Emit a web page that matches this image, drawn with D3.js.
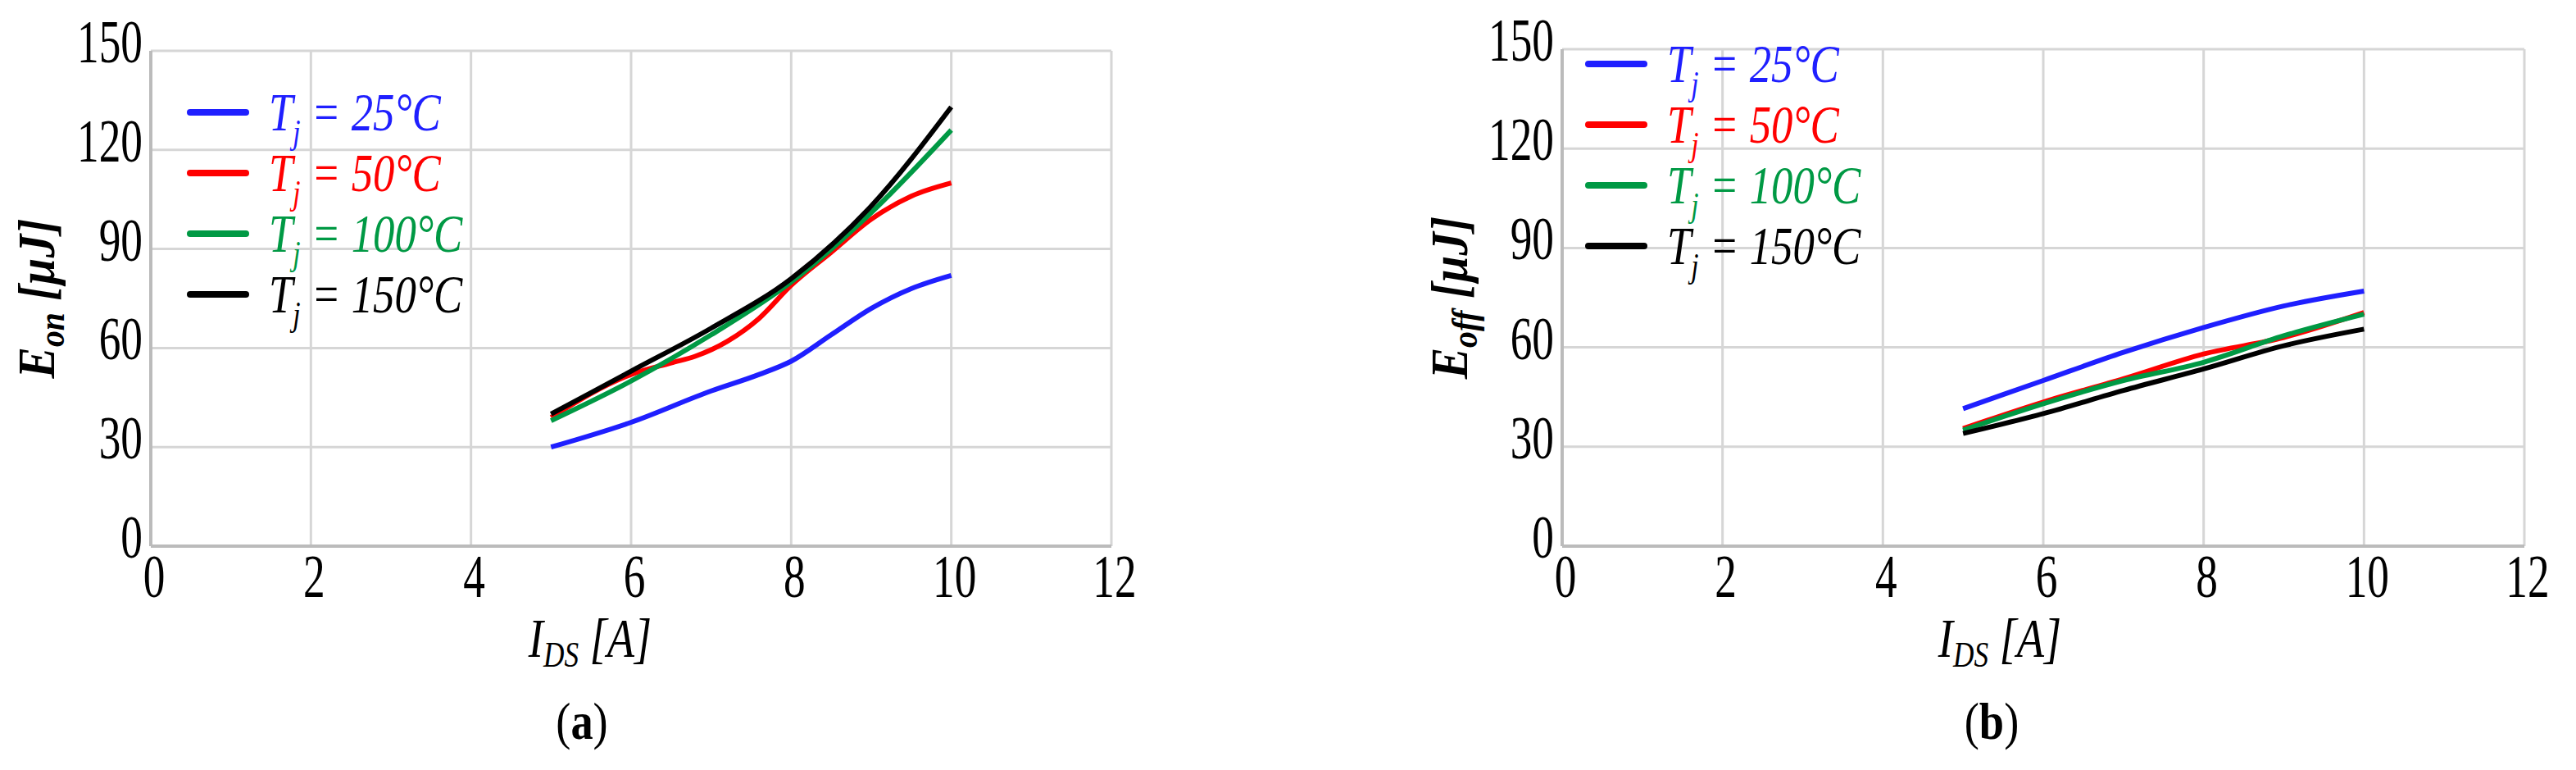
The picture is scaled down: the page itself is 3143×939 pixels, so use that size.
<!DOCTYPE html>
<html><head><meta charset="utf-8">
<script src="https://cdn.jsdelivr.net/npm/d3@7"></script>
<style>body{margin:0;background:#fff}svg text{font-family:"Liberation Serif","Times New Roman",Times,"DejaVu Serif",serif}</style>
</head><body>
<script>
const seriesNames = ['25', '50', '100', '150'];
const seriesColors = ['#1f1fff', '#ff0000', '#009944', '#000000'];
const xTicks = [0, 2, 4, 6, 8, 10, 12];
const yTicks = [0, 30, 60, 90, 120, 150];

// E_on, points [I_DS, energy]
const eon25 = [[5, 30], [6, 37.5], [7, 47], [7.6, 52], [8, 56], [8.5, 64], [9, 72], [9.5, 78], [10, 82]];
const eon50 = [[5, 39], [6, 52], [6.5, 55.5], [6.8, 57.5], [7.2, 62], [7.6, 69], [8, 79], [8.5, 89], [9, 99], [9.5, 106], [10, 110]];
const eon100 = [[5, 38], [6, 50], [7, 64], [8, 80], [9, 101], [10, 126]];
const eon150 = [[5, 40], [6, 53], [7, 66], [8, 81], [9, 103], [10, 133]];
// E_off
const eoff25 = [[5, 41.5], [6, 50], [7, 58.5], [8, 66], [9, 72.5], [10, 77]];
const eoff50 = [[5, 35.5], [6, 43.5], [7, 50.5], [8, 58], [9, 63], [10, 70.5]];
const eoff100 = [[5, 35], [6, 43], [7, 50], [8, 55.5], [9, 63.5], [10, 70]];
const eoff150 = [[5, 34], [6, 40], [7, 47], [8, 53.5], [9, 60.5], [10, 65.5]];

const serif = 'Liberation Serif, Times New Roman, serif';
const svg = d3.select('body').append('svg').attr('width', 3143).attr('height', 939)
  .attr('font-family', serif);

function panel(o) {
  const x = d3.scaleLinear().domain([0, 12]).range([o.x0, o.x1]);
  const y = d3.scaleLinear().domain([0, 150]).range([o.y0, o.y1]);
  const g = svg.append('g');

  g.selectAll('.gx').data(xTicks).enter().append('line')
    .attr('x1', d => x(d)).attr('x2', d => x(d)).attr('y1', y(0)).attr('y2', y(150))
    .attr('stroke', '#d6d6d6').attr('stroke-width', 3);
  g.selectAll('.gy').data(yTicks).enter().append('line')
    .attr('y1', d => y(d)).attr('y2', d => y(d)).attr('x1', x(0)).attr('x2', x(12))
    .attr('stroke', '#d6d6d6').attr('stroke-width', 3);
  g.append('line').attr('x1', x(0)).attr('x2', x(12)).attr('y1', y(0)).attr('y2', y(0)).attr('stroke', '#bbb').attr('stroke-width', 4);
  g.append('line').attr('x1', x(0)).attr('x2', x(0)).attr('y1', y(0)).attr('y2', y(150)).attr('stroke', '#bbb').attr('stroke-width', 4);

  g.selectAll('.tx').data(xTicks).enter().append('text')
    .attr('transform', d => `translate(${x(d) + 4},${y(0) + 62}) scale(0.72,1)`)
    .attr('text-anchor', 'middle').attr('font-size', 74).text(d => d);
  g.selectAll('.ty').data(yTicks).enter().append('text')
    .attr('transform', d => `translate(${x(0) - 10},${y(d) + 14}) scale(0.72,1)`)
    .attr('text-anchor', 'end').attr('font-size', 74).text(d => d);

  const line = d3.line().x(d => x(d[0])).y(d => y(d[1])).curve(d3.curveMonotoneX);
  o.data.forEach((s, i) => {
    g.append('path').attr('d', line(s)).attr('fill', 'none')
      .attr('stroke', seriesColors[i]).attr('stroke-width', 6);
  });

  seriesNames.forEach((n, i) => {
    const ly = o.ly + i * 74;
    g.append('line').attr('x1', o.lx).attr('x2', o.lx + 68).attr('y1', ly).attr('y2', ly)
      .attr('stroke', seriesColors[i]).attr('stroke-width', 8).attr('stroke-linecap', 'round');
    const t = g.append('text').attr('transform', `translate(${o.lx + 96},${ly + 22}) scale(0.8,1)`)
      .attr('font-size', 66).attr('font-style', 'italic').attr('fill', seriesColors[i]);
    t.append('tspan').text('T');
    t.append('tspan').attr('font-size', 42).attr('dy', 16).text('j');
    t.append('tspan').attr('dy', -16).text(` = ${n}°C`);
  });

  const yl = g.append('text').attr('transform', `translate(${o.ylx},${(o.y0 + o.y1) / 2}) rotate(-90) scale(0.9,1)`)
    .attr('text-anchor', 'middle').attr('font-size', 64).attr('font-style', 'italic').attr('font-weight', 'bold');
  yl.append('tspan').text('E');
  yl.append('tspan').attr('font-size', 44).attr('dy', 12).text(o.sub);
  yl.append('tspan').attr('dy', -12).text(' [µJ]');

  const xl = g.append('text').attr('transform', `translate(${o.xlx},${y(0) + 135}) scale(0.8,1)`)
    .attr('text-anchor', 'middle').attr('font-size', 68).attr('font-style', 'italic');
  xl.append('tspan').text('I');
  xl.append('tspan').attr('font-size', 44).attr('dy', 12).text('DS');
  xl.append('tspan').attr('dy', -12).text(' [A]');

  const cap = g.append('text').attr('transform', `translate(${o.xlx - 10},${y(0) + 235}) scale(0.85,1)`)
    .attr('text-anchor', 'middle').attr('font-size', 64);
  cap.append('tspan').text('(');
  cap.append('tspan').attr('font-weight', 'bold').text(o.cap);
  cap.append('tspan').text(')');
}

panel({ x0: 184, x1: 1356, y0: 666, y1: 62, data: [eon25, eon50, eon100, eon150],
  lx: 232, ly: 137, ylx: 66, xlx: 720, sub: 'on', cap: 'a' });
panel({ x0: 1906, x1: 3080, y0: 666, y1: 60, data: [eoff25, eoff50, eoff100, eoff150],
  lx: 1938, ly: 78, ylx: 1790, xlx: 2440, sub: 'off', cap: 'b' });
</script>
</body></html>
